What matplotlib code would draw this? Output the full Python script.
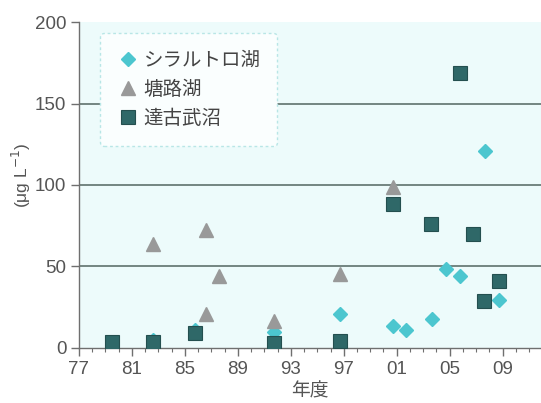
import matplotlib
matplotlib.use("Agg")
from matplotlib import pyplot as plt
from matplotlib.ticker import MultipleLocator, FixedLocator

plt.rcParams['font.family'] = ['Liberation Sans', 'Noto Sans CJK JP', 'DejaVu Sans']

# シラルトロ湖
shiraruto_year = [1982.6, 1985.8, 1991.7, 1996.7, 2000.7, 2001.7, 2003.7, 2004.7, 2005.8, 2007.7, 2008.7]
shiraruto_val = [5, 11, 9.5, 20.7, 13.5, 11, 17.5, 48.5, 44, 121, 29.5]

# 塘路湖
toro_year = [1982.6, 1986.6, 1987.6, 1986.6, 1991.7, 1996.7, 2000.7]
toro_val = [63.5, 72.5, 44, 21, 16.5, 45.5, 99]

# 達古武沼
takkobu_year = [1979.5, 1982.6, 1985.8, 1991.7, 1996.7, 2000.7, 2003.6, 2005.8, 2006.8, 2007.6, 2008.7]
takkobu_val = [3.5, 3.7, 8.8, 2.7, 4, 88.5, 76, 169, 70, 29, 41]

labels = ['シラルトロ湖', '塘路湖', '達古武沼']
x_ticks = [1977, 1981, 1985, 1989, 1993, 1997, 2001, 2005, 2009]
x_ticklabels = ['77', '81', '85', '89', '93', '97', '01', '05', '09']
y_ticks = [0, 50, 100, 150, 200]

text_color = '#555555'
axis_color = '#6f6f6f'

fig = plt.figure(figsize=(5.41, 4.03), dpi=100)
ax = fig.add_axes([0.146, 0.137, 0.854, 0.808])
ax.set_facecolor('#edfbfb')

for y in [50, 100, 150]:
    ax.axhline(y, color='#5f716d', lw=1.2, zorder=1)

ax.plot(shiraruto_year, shiraruto_val, 'D', ms=7.2, color='#4cc6cf', mec='#4cc6cf',
        label=labels[0], zorder=3)
ax.plot(toro_year, toro_val, '^', ms=9.5, color='#999999', mec='#999999',
        label=labels[1], zorder=4)
ax.plot(takkobu_year, takkobu_val, 's', ms=9.6, color='#2f6868', mec='#244f4f', mew=0.8,
        label=labels[2], zorder=5)

ax.set_xlim(1977, 2011.9)
ax.set_ylim(0, 200)
ax.xaxis.set_major_locator(FixedLocator(x_ticks))
ax.xaxis.set_minor_locator(MultipleLocator(1))
ax.set_xticklabels(x_ticklabels)
ax.set_yticks(y_ticks)

for s in ['top', 'right']:
    ax.spines[s].set_visible(False)
for s in ['left', 'bottom']:
    ax.spines[s].set_color(axis_color)
    ax.spines[s].set_linewidth(1.0)

ax.tick_params(axis='both', which='major', labelsize=13.5, colors=axis_color,
               labelcolor=text_color, length=6, width=1.0, direction='out')
ax.tick_params(axis='x', which='minor', colors=axis_color, length=3, width=0.8, direction='out')
ax.tick_params(axis='y', pad=3)

ax.set_xlabel('年度', fontsize=13.5, color=text_color, labelpad=2,
              family=['Noto Sans CJK JP', 'DejaVu Sans'])
ax.set_ylabel('(μg L$^{-1}$)', fontsize=12.5, color=text_color)
ax.yaxis.set_label_coords(-0.1, 0.53)

leg = ax.legend(loc='upper left', bbox_to_anchor=(0.045, 0.966), borderaxespad=0,
                frameon=True, fancybox=True, handletextpad=0.2,
                handlelength=1.2, labelspacing=0.42, borderpad=0.85,
                prop={'family': ['Noto Sans CJK JP', 'DejaVu Sans'], 'size': 14})
frame = leg.get_frame()
frame.set_facecolor('#fafefe')
frame.set_edgecolor('#b8e6e6')
frame.set_linestyle((0, (2, 2)))
frame.set_linewidth(1.0)
frame.set_alpha(1)
for t in leg.get_texts():
    t.set_color('#444444')

fig.savefig('out.png', dpi=100)
